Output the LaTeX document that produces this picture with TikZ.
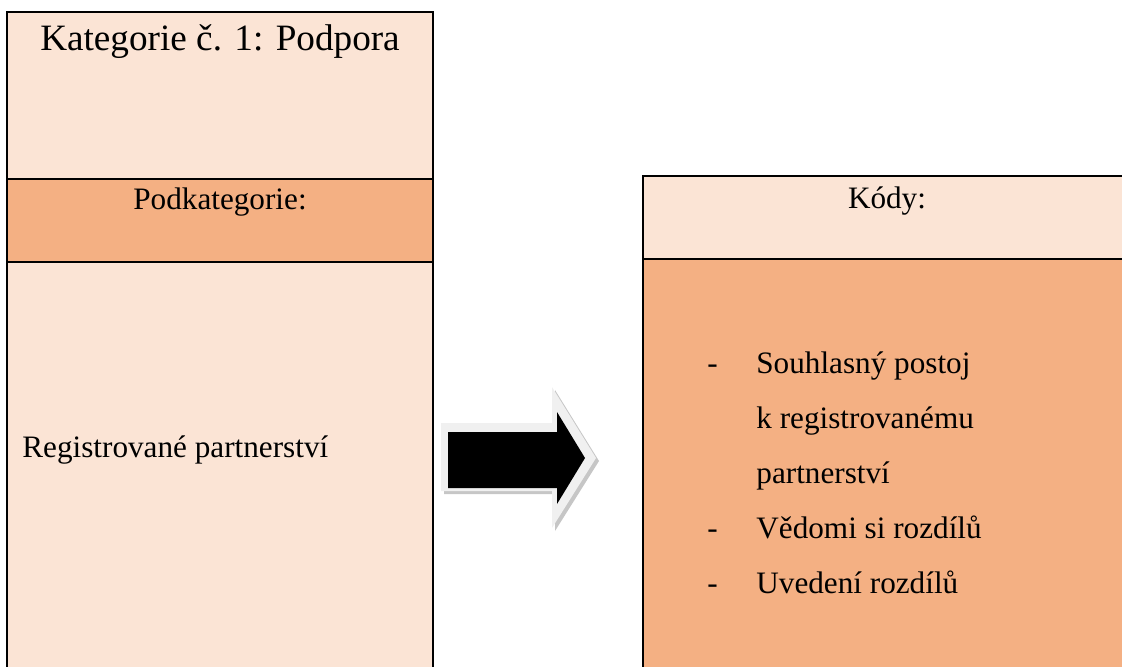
\documentclass[tikz,border=0pt]{standalone}
\usepackage{fontspec}
\setmainfont{Liberation Serif}
\usetikzlibrary{positioning}
\definecolor{lightpeach}{HTML}{FBE4D5}
\definecolor{peach}{HTML}{F4B083}
\tikzset{
  cell/.style={draw=black, line width=1pt, inner sep=0pt, outer sep=0pt},
  cellLight/.style={cell, fill=lightpeach},
  cellDark/.style={cell, fill=peach},
  bigtext/.style={font=\fontsize{18.6}{23}\selectfont, inner sep=0pt},
  celltext/.style={font=\fontsize{15.6}{19}\selectfont, inner sep=0pt},
}

\begin{document}
\begin{tikzpicture}[x=0.5pt, y=-0.5pt]
  \useasboundingbox (0,0) rectangle (1122,666);
  \clip (0,0) rectangle (1122,666);

  % left column
  \node[cellLight, minimum width=213pt, minimum height=83.5pt, anchor=north west] (kat) at (7,12) {};
  \node[cellDark, minimum width=213pt, minimum height=41.5pt, below=0pt of kat.south west, anchor=north west] (podkat) {};
  \node[cellLight, minimum width=213pt, minimum height=219pt, below=0pt of podkat.south west, anchor=north west] (reg) {};

  \node[bigtext, below=19pt of kat.north, anchor=base] (kattext) {Kategorie č. 1: Podpora};
  \node[celltext, below=15pt of podkat.north, anchor=base] (podkattext) {Podkategorie:};
  \node[celltext, anchor=base west] (regtext) at (22,457) {Registrované partnerství};

  % right column
  \node[cellLight, minimum width=244pt, minimum height=41.5pt, anchor=north west] (kody) at (643,176) {};
  \node[cellDark, minimum width=244pt, minimum height=220.5pt, below=0pt of kody.south west, anchor=north west] (kodylist) {};

  \node[celltext, below=16pt of kody.north, anchor=base] (kodytext) {Kódy:};
  \node[celltext, anchor=base west, font=\fontsize{15.6}{27.5}\selectfont] (listtext) at (707,373) {%
    \begin{tabular}[t]{@{}p{24.5pt}@{}l@{}}
      - & Souhlasný postoj \\
        & k registrovanému \\
        & partnerství \\
      - & Vědomi si rozdílů \\
      - & Uvedení rozdílů
    \end{tabular}};

  % block arrow
  \fill[gray!45] (444,426) -- (555,426) -- (555,390) -- (599,461) -- (555,531) -- (555,494) -- (444,494) -- cycle;
  \fill[gray!12] (441,423) -- (552,423) -- (552,387) -- (596,458) -- (552,528) -- (552,491) -- (441,491) -- cycle;
  \fill[black] (448,432) -- (557,432) -- (557,412) -- (585,458) -- (557,504) -- (557,488) -- (448,488) -- cycle;
\end{tikzpicture}
\end{document}
